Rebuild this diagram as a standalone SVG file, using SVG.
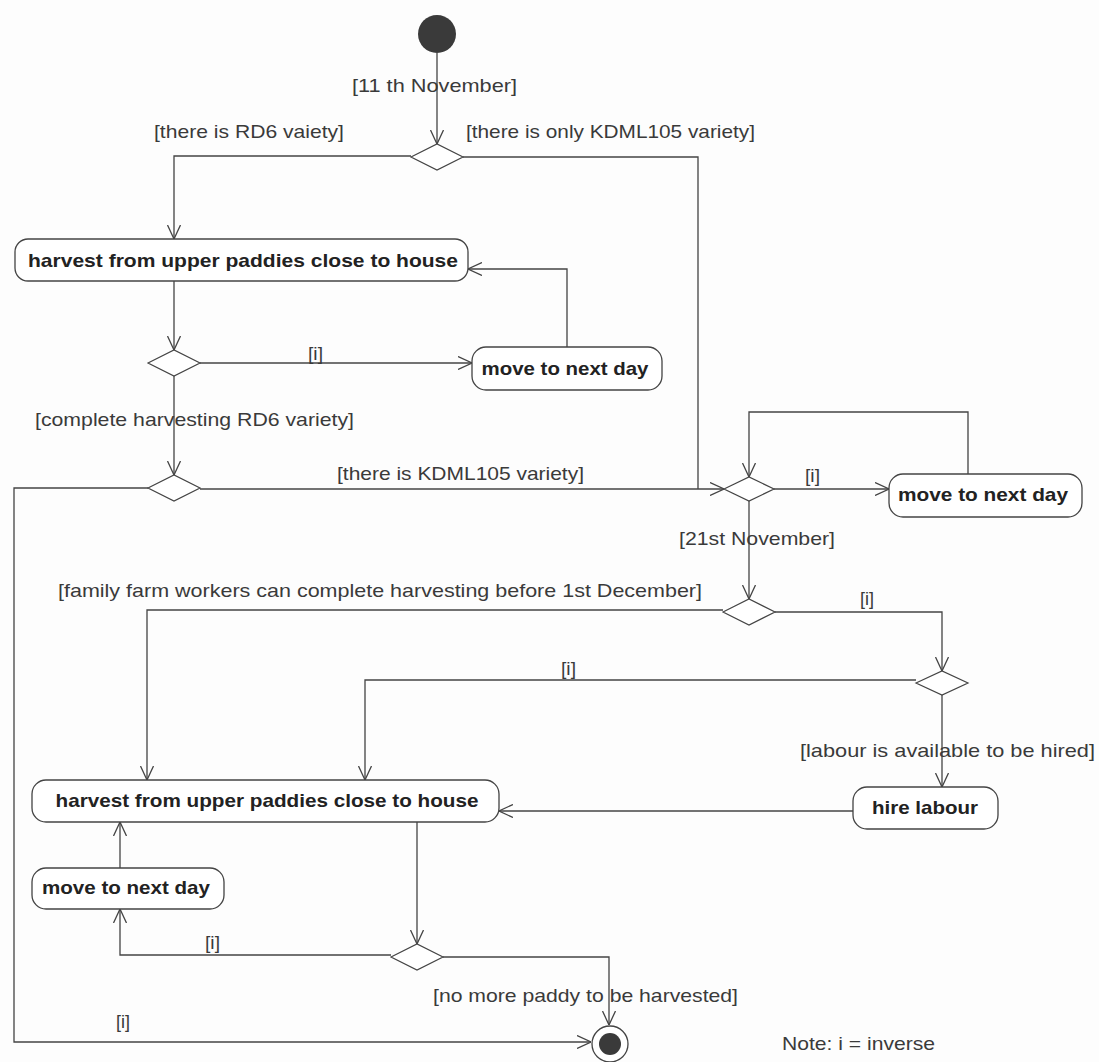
<svg xmlns="http://www.w3.org/2000/svg" width="1099" height="1062" viewBox="0 0 1099 1062">
<style>
.bg{fill:#fdfdfd}
.act{fill:#ffffff;stroke:#444;stroke-width:1.3}
.dec{fill:#ffffff;stroke:#444;stroke-width:1.2}
.c{fill:none;stroke:#444;stroke-width:1.3}
.lbl{font-family:"Liberation Sans",Arial,sans-serif;font-size:19px;fill:#3a3a3a}
.at{font-family:"Liberation Sans",Arial,sans-serif;font-size:19px;font-weight:bold;fill:#222;text-anchor:middle}
</style>
<defs>
<marker id="arr" viewBox="0 0 14 14" refX="14" refY="7" markerWidth="14" markerHeight="14" markerUnits="userSpaceOnUse" orient="auto">
<path d="M0,0.5 L14,7 L0,13.5" fill="none" stroke="#444" stroke-width="1.3"/>
</marker>
</defs>
<rect class="bg" x="0" y="0" width="1099" height="1062"/>

<g id="connectors">
<path class="c" d="M437,53 V144" marker-end="url(#arr)"/>
<path class="c" d="M411,156 H174 V239" marker-end="url(#arr)"/>
<path class="c" d="M463,157 H698 V489"/>
<path class="c" d="M174,281 V350" marker-end="url(#arr)"/>
<path class="c" d="M200,363 H472" marker-end="url(#arr)"/>
<path class="c" d="M567,347 V269 H468" marker-end="url(#arr)"/>
<path class="c" d="M174,376 V475" marker-end="url(#arr)"/>
<path class="c" d="M200,489 H724" marker-end="url(#arr)"/>
<path class="c" d="M148,488 H14 V1042 H591" marker-end="url(#arr)"/>
<path class="c" d="M774,489 H889" marker-end="url(#arr)"/>
<path class="c" d="M968,474 V412 H749 V477" marker-end="url(#arr)"/>
<path class="c" d="M749,501 V599" marker-end="url(#arr)"/>
<path class="c" d="M723,610 H147 V780" marker-end="url(#arr)"/>
<path class="c" d="M775,612 H942 V671" marker-end="url(#arr)"/>
<path class="c" d="M916,680 H365 V780" marker-end="url(#arr)"/>
<path class="c" d="M942,695 V787" marker-end="url(#arr)"/>
<path class="c" d="M853,811 H499" marker-end="url(#arr)"/>
<path class="c" d="M417,822 V944" marker-end="url(#arr)"/>
<path class="c" d="M391,955 H120 V909" marker-end="url(#arr)"/>
<path class="c" d="M120,868 V822" marker-end="url(#arr)"/>
<path class="c" d="M443,957 H609 V1025" marker-end="url(#arr)"/>
</g>

<g id="labels">
<text class="lbl" x="352" y="92" textLength="165" lengthAdjust="spacingAndGlyphs">[11 th November]</text>
<text class="lbl" x="154" y="138" textLength="190" lengthAdjust="spacingAndGlyphs">[there is RD6 vaiety]</text>
<text class="lbl" x="466" y="138" textLength="289" lengthAdjust="spacingAndGlyphs">[there is only KDML105 variety]</text>
<text class="lbl" x="308" y="360" textLength="15" lengthAdjust="spacingAndGlyphs">[i]</text>
<text class="lbl" x="35" y="426" textLength="319" lengthAdjust="spacingAndGlyphs">[complete harvesting RD6 variety]</text>
<text class="lbl" x="337" y="480" textLength="247" lengthAdjust="spacingAndGlyphs">[there is KDML105 variety]</text>
<text class="lbl" x="805" y="482" textLength="15" lengthAdjust="spacingAndGlyphs">[i]</text>
<text class="lbl" x="679" y="545" textLength="156" lengthAdjust="spacingAndGlyphs">[21st November]</text>
<text class="lbl" x="58" y="597" textLength="644" lengthAdjust="spacingAndGlyphs">[family farm workers can complete harvesting before 1st December]</text>
<text class="lbl" x="860" y="605" textLength="14" lengthAdjust="spacingAndGlyphs">[i]</text>
<text class="lbl" x="561" y="675" textLength="15" lengthAdjust="spacingAndGlyphs">[i]</text>
<text class="lbl" x="800" y="757" textLength="295" lengthAdjust="spacingAndGlyphs">[labour is available to be hired]</text>
<text class="lbl" x="205" y="949" textLength="15" lengthAdjust="spacingAndGlyphs">[i]</text>
<text class="lbl" x="433" y="1002" textLength="305" lengthAdjust="spacingAndGlyphs">[no more paddy to be harvested]</text>
<text class="lbl" x="116" y="1028" textLength="14" lengthAdjust="spacingAndGlyphs">[i]</text>
<text class="lbl" x="782" y="1050" textLength="153" lengthAdjust="spacingAndGlyphs">Note: i = inverse</text>
</g>

<g id="start"><circle cx="437" cy="34" r="19" fill="#3a3a3a"/></g>
<g id="d1"><polygon class="dec" points="411,157 437,144 463,157 437,170"/></g>
<g id="a1"><rect class="act" x="15" y="239" width="453" height="42" rx="13"/><text class="at" x="243" y="267" textLength="430" lengthAdjust="spacingAndGlyphs">harvest  from upper paddies close to house</text></g>
<g id="d2"><polygon class="dec" points="148,363 174,350 200,363 174,376"/></g>
<g id="a2"><rect class="act" x="472" y="347" width="190" height="43" rx="14"/><text class="at" x="565" y="375" textLength="167" lengthAdjust="spacingAndGlyphs">move to next day</text></g>
<g id="d3"><polygon class="dec" points="148,488 174,475 200,488 174,501"/></g>
<g id="d4"><polygon class="dec" points="724,489 749,477 774,489 749,501"/></g>
<g id="a3"><rect class="act" x="889" y="474" width="193" height="43" rx="14"/><text class="at" x="983" y="501" textLength="170" lengthAdjust="spacingAndGlyphs">move to next day</text></g>
<g id="d5"><polygon class="dec" points="723,612 749,599 775,612 749,625"/></g>
<g id="d6"><polygon class="dec" points="916,683 942,671 968,683 942,695"/></g>
<g id="a4"><rect class="act" x="853" y="787" width="145" height="42" rx="14"/><text class="at" x="925" y="814" textLength="106" lengthAdjust="spacingAndGlyphs">hire labour</text></g>
<g id="a5"><rect class="act" x="32" y="780" width="467" height="42" rx="14"/><text class="at" x="267" y="807" textLength="423" lengthAdjust="spacingAndGlyphs">harvest from upper paddies close to house</text></g>
<g id="a6"><rect class="act" x="32" y="868" width="192" height="41" rx="14"/><text class="at" x="126" y="894" textLength="168" lengthAdjust="spacingAndGlyphs">move to next day</text></g>
<g id="d7"><polygon class="dec" points="391,957 417,944 443,957 417,970"/></g>
<g id="end"><circle cx="610" cy="1044" r="18" fill="#fff" stroke="#444" stroke-width="1.3"/><circle cx="610" cy="1044" r="11" fill="#3a3a3a"/></g>
</svg>
